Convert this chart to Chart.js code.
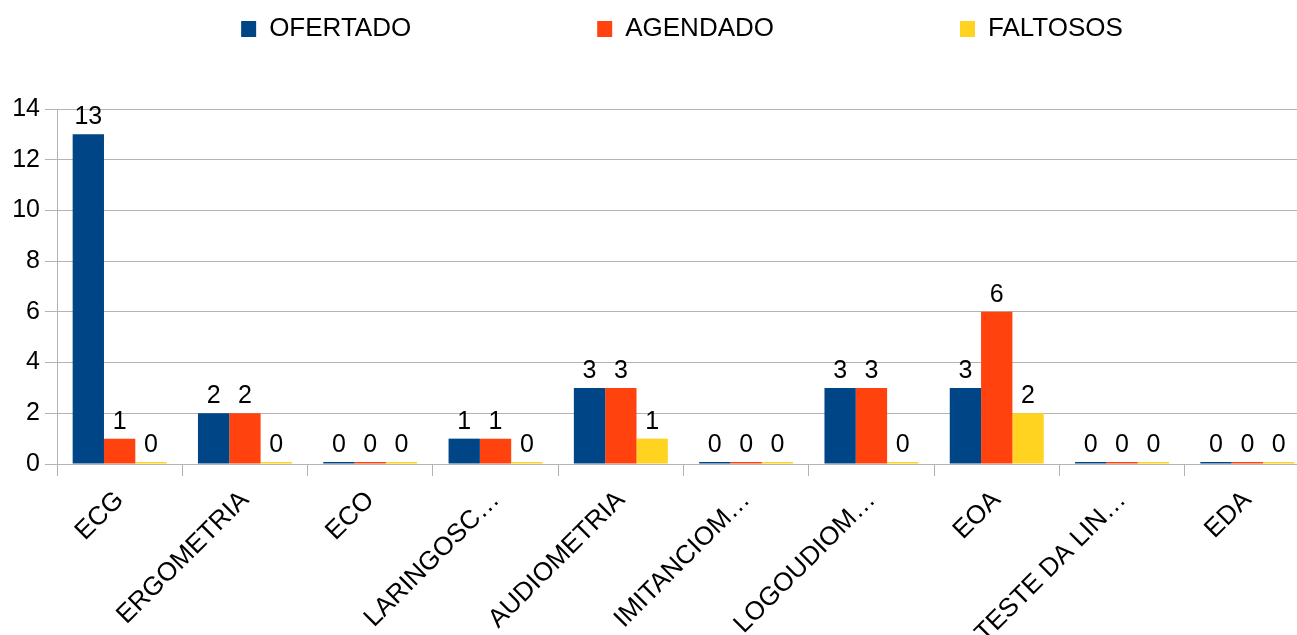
<!DOCTYPE html>
<html>
<head>
<meta charset="utf-8">
<script src="https://cdn.jsdelivr.net/npm/chart.js@4.4.0/dist/chart.umd.min.js"></script>
<style>
html, body { margin: 0; padding: 0; background: #fff; overflow: hidden; }
#grafico { display: block; }
</style>
</head>
<body>
<canvas id="grafico" width="1310" height="635"></canvas>
<script>
// Dados do gráfico
const categorias = ['ECG', 'ERGOMETRIA', 'ECO', 'LARINGOSC…', 'AUDIOMETRIA', 'IMITANCIOM…', 'LOGOUDIOM…', 'EOA', 'TESTE DA LIN…', 'EDA'];
const ofertado = [13, 2, 0, 1, 3, 0, 3, 3, 0, 0];
const agendado = [1, 2, 0, 1, 3, 0, 3, 6, 0, 0];
const faltosos = [0, 0, 0, 0, 1, 0, 0, 2, 0, 0];
const marcasY = [0, 2, 4, 6, 8, 10, 12, 14];

Chart.defaults.font.family = '"Liberation Sans", Arial, sans-serif';
Chart.defaults.font.size = 25;
Chart.defaults.color = '#000';

const cinza = '#b3b3b3';

// valores em cima das barras
const rotulos = {
    id: 'rotulos',
    afterDatasetsDraw(chart) {
        const c = chart.ctx;
        c.save();
        c.font = '25px "Liberation Sans", Arial, sans-serif';
        c.fillStyle = '#000';
        c.textAlign = 'center';
        c.textBaseline = 'alphabetic';
        chart.data.datasets.forEach((ds, i) => {
            chart.getDatasetMeta(i).data.forEach((barra, j) => {
                c.fillText(ds.data[j], barra.x, barra.y - 10);
            });
        });
        c.restore();
    }
};

// legenda espaçada como no original
const legendaEspacada = {
    id: 'legendaEspacada',
    beforeInit(chart) {
        const fit = chart.legend.fit;
        chart.legend.fit = function() {
            fit.call(this);
            this.height = 109;
        };
    },
    afterLayout(chart) {
        const lg = chart.legend;
        lg.top = 16 - 186;
        lg.left += 27;
        lg.right += 27;
    }
};

const ctx = document.getElementById('grafico');
new Chart(ctx, {
    type: 'bar',
    data: {
        labels: categorias,
        datasets: [
            { label: 'OFERTADO', data: ofertado, backgroundColor: '#004586', borderWidth: 0 },
            { label: 'AGENDADO', data: agendado, backgroundColor: '#ff420e', borderWidth: 0 },
            { label: 'FALTOSOS', data: faltosos, backgroundColor: '#ffd320', borderWidth: 0 }
        ]
    },
    options: {
        responsive: false,
        animation: false,
        events: [],
        datasets: {
            bar: { categoryPercentage: 0.75, barPercentage: 1, minBarLength: 2 }
        },
        layout: { padding: 0 },
        scales: {
            x: {
                grid: { drawOnChartArea: false, color: cinza, tickLength: 12 },
                border: { color: cinza },
                ticks: { maxRotation: 45, minRotation: 45, autoSkip: false, padding: 9, font: { size: 26 } },
                afterFit(scale) { scale.height = 635 - 464; }
            },
            y: {
                min: 0,
                max: 14,
                grid: { color: cinza, tickLength: 12 },
                border: { color: cinza },
                ticks: { padding: 5 },
                afterBuildTicks(scale) { scale.ticks = marcasY.map(v => ({ value: v })); },
                afterFit(scale) { scale.width = 57; }
            }
        },
        plugins: {
            legend: {
                position: 'top',
                labels: { boxWidth: 15, boxHeight: 16, padding: 186, font: { size: 26 } }
            },
            tooltip: { enabled: false }
        }
    },
    plugins: [rotulos, legendaEspacada]
});
</script>
</body>
</html>
